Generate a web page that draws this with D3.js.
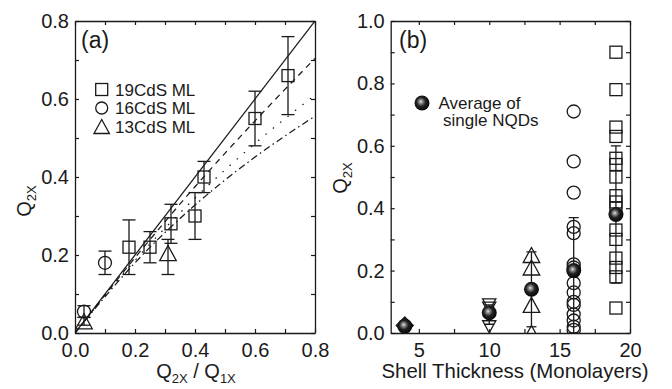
<!DOCTYPE html>
<html><head><meta charset="utf-8">
<script src="https://cdn.jsdelivr.net/npm/d3@7"></script>
<style>
html,body{margin:0;padding:0;background:#fff;}
svg{display:block;font-family:"Liberation Sans",Arial,Helvetica,sans-serif;}
</style></head>
<body>
<svg id="chart" width="672" height="389"></svg>
<script>
// ---------- Panel (a) data ----------
const sq19a = [ // x, y, lo, hi
  {x:0.18,y:0.22,lo:0.15,hi:0.29},
  {x:0.25,y:0.22,lo:0.18,hi:0.26},
  {x:0.32,y:0.28,lo:0.23,hi:0.33},
  {x:0.40,y:0.30,lo:0.24,hi:0.36},
  {x:0.43,y:0.40,lo:0.36,hi:0.44},
  {x:0.60,y:0.55,lo:0.48,hi:0.62},
  {x:0.71,y:0.66,lo:0.56,hi:0.76}
];
const circ16a = [
  {x:0.03,y:0.055,lo:0.04,hi:0.07},
  {x:0.10,y:0.18,lo:0.15,hi:0.21}
];
const tri13a = [
  {x:0.03,y:0.03,lo:0.02,hi:0.04},
  {x:0.31,y:0.205,lo:0.15,hi:0.24}
];
const lineSolid   = [[0,0],[0.8,0.8]];
const lineDashed  = [[0,0],[0.2,0.193],[0.4,0.375],[0.6,0.544],[0.8,0.704]];
const lineDotted  = [[0,0],[0.2,0.186],[0.4,0.346],[0.6,0.486],[0.8,0.61]];
const lineDashDot = [[0,0],[0.2,0.18],[0.4,0.328],[0.6,0.451],[0.8,0.556]];
const ticksA = [0,0.1,0.2,0.3,0.4,0.5,0.6,0.7,0.8];
const labelsA = [0,0.2,0.4,0.6,0.8];
const legendA = ["19CdS ML","16CdS ML","13CdS ML"];

// ---------- Panel (b) data ----------
const thickness = [4, 10, 13, 16, 19];
const averages  = [0.022, 0.065, 0.14, 0.20, 0.38];
const avgLo     = [0.015, 0.028, 0.02, 0.0, 0.16];
const avgHi     = [0.03, 0.09, 0.26, 0.37, 0.60];
const dia4   = [0.024];
const down10 = [0.09, 0.08, 0.02];
const up13   = [0.25, 0.21, 0.09, 0.0];
const circ16 = [0.71, 0.55, 0.45, 0.34, 0.32, 0.22, 0.21, 0.16, 0.13, 0.10, 0.09, 0.06, 0.04, 0.02, 0.01];
const sq19   = [0.90, 0.78, 0.66, 0.63, 0.56, 0.54, 0.50, 0.44, 0.42, 0.40, 0.33, 0.30, 0.24, 0.21, 0.18, 0.08];
const ticksBx = [5,7.5,10,12.5,15,17.5,20];
const labelsBx = [5,10,15,20];
const ticksBy = [0,0.1,0.2,0.3,0.4,0.5,0.6,0.7,0.8,0.9,1.0];
const labelsBy = [0,0.2,0.4,0.6,0.8,1.0];

const INK = "#1a1a1a";
const svg = d3.select("#chart");
const defs = svg.append("defs");
const grad = defs.append("radialGradient").attr("id","ball")
  .attr("cx","0.45").attr("cy","0.45").attr("r","0.6").attr("fx","0.42").attr("fy","0.4");
grad.append("stop").attr("offset","0").attr("stop-color","#e8e8e8");
grad.append("stop").attr("offset","0.16").attr("stop-color","#9a9a9a");
grad.append("stop").attr("offset","0.5").attr("stop-color","#222");
grad.append("stop").attr("offset","1").attr("stop-color","#000");

function frame(g, x, y, xt, xl, yt, yl, fmtX, fmtY){
  const [x0,x1] = x.range(), [y0,y1] = y.range();
  const fx = d => xl.some(v=>Math.abs(v-d)<1e-9) ? fmtX(d) : "";
  const fy = d => yl.some(v=>Math.abs(v-d)<1e-9) ? fmtY(d) : "";
  const style = s => {
    s.selectAll("path.domain").attr("stroke",INK).attr("stroke-width",1.3);
    s.selectAll(".tick line").attr("stroke",INK).attr("stroke-width",1.2);
    s.selectAll("text").attr("fill",INK).attr("font-size",20).attr("font-family","Liberation Sans, Arial, sans-serif");
  };
  g.append("g").attr("transform",`translate(0,${y0})`)
    .call(d3.axisBottom(x).tickValues(xt).tickFormat(fx).tickSize(-4).tickSizeOuter(0).tickPadding(10)).call(style);
  g.append("g").attr("transform",`translate(0,${y1})`)
    .call(d3.axisTop(x).tickValues(xt).tickFormat("").tickSize(-4).tickSizeOuter(0)).call(style);
  g.append("g").attr("transform",`translate(${x0},0)`)
    .call(d3.axisLeft(y).tickValues(yt).tickFormat(fy).tickSize(-4).tickSizeOuter(0).tickPadding(6)).call(style);
  g.append("g").attr("transform",`translate(${x1},0)`)
    .call(d3.axisRight(y).tickValues(yt).tickFormat("").tickSize(-4).tickSizeOuter(0)).call(style);
}

function marker(sel, type, size){
  const h = size/2;
  if(type==="square") return sel.append("rect").attr("x",-h).attr("y",-h).attr("width",size).attr("height",size);
  if(type==="circle") return sel.append("circle").attr("r",h);
  if(type==="up") return sel.append("path").attr("d",`M0,${-size*0.5}L${size*0.55},${size*0.5}L${-size*0.55},${size*0.5}Z`);
  if(type==="down") return sel.append("path").attr("d",`M0,${size*0.5}L${size*0.55},${-size*0.5}L${-size*0.55},${-size*0.5}Z`);
  if(type==="diamond") return sel.append("path").attr("d",`M0,${-h}L${h},0L0,${h}L${-h},0Z`);
}

// ================= Panel (a) =================
const xa = d3.scaleLinear().domain([0,0.8]).range([75,315]);
const ya = d3.scaleLinear().domain([0,0.8]).range([333,21]);
const ga = svg.append("g");
defs.append("clipPath").attr("id","clipA").append("rect")
  .attr("x",75).attr("y",21).attr("width",240).attr("height",312);
const pa = ga.append("g").attr("clip-path","url(#clipA)");
const lg = d3.line().x(d=>xa(d[0])).y(d=>ya(d[1])).curve(d3.curveMonotoneX);
[[lineSolid,null],[lineDashed,"6,5"],[lineDotted,"1.5,8"],[lineDashDot,"7,3.5,1.5,3.5"]].forEach(([data,dash])=>{
  pa.append("path").datum(data).attr("d",lg).attr("fill","none")
    .attr("stroke",INK).attr("stroke-width",1.25).attr("stroke-dasharray",dash);
});
function errA(data){
  data.forEach(d=>{
    const gx = xa(d.x);
    pa.append("line").attr("x1",gx).attr("x2",gx).attr("y1",ya(d.lo)).attr("y2",ya(d.hi))
      .attr("stroke",INK).attr("stroke-width",1.3);
    [d.lo,d.hi].forEach(v=>pa.append("line").attr("x1",gx-6.5).attr("x2",gx+6.5)
      .attr("y1",ya(v)).attr("y2",ya(v)).attr("stroke",INK).attr("stroke-width",1.3));
  });
}
errA(sq19a); errA(circ16a); errA(tri13a);
function ptsA(data,type,size){
  data.forEach(d=>{
    const m = pa.append("g").attr("transform",`translate(${xa(d.x)},${ya(d.y)})`);
    marker(m,type,size).attr("fill","none").attr("stroke",INK).attr("stroke-width",1.3);
  });
}
ptsA(sq19a,"square",12); ptsA(circ16a,"circle",13); ptsA(tri13a,"up",15);
frame(ga, xa, ya, ticksA, labelsA, ticksA, labelsA, d3.format(".1f"), d3.format(".1f"));

// legend (a)
["square","circle","up"].forEach((t,i)=>{
  const yy = 89.5 + i*18.5;
  const m = ga.append("g").attr("transform",`translate(101.7,${yy})`);
  marker(m,t,t==="up"?14:12).attr("fill","none").attr("stroke",INK).attr("stroke-width",1.3);
  ga.append("text").attr("x",115).attr("y",yy+6.3).attr("font-size",17).attr("fill",INK).text(legendA[i]);
});
ga.append("text").attr("x",81).attr("y",47.5).attr("font-size",23).attr("fill",INK).text("(a)");

// axis titles (a)
const xtA = ga.append("text").attr("x",196).attr("y",378).attr("text-anchor","middle").attr("font-size",20).attr("fill",INK);
xtA.append("tspan").text("Q");
xtA.append("tspan").attr("font-size",13).attr("dy",5).text("2X");
xtA.append("tspan").attr("dy",-5).text(" / Q");
xtA.append("tspan").attr("font-size",13).attr("dy",5).text("1X");
const ytA = ga.append("text").attr("transform","translate(31,201) rotate(-90)").attr("text-anchor","middle").attr("font-size",20).attr("fill",INK);
ytA.append("tspan").text("Q");
ytA.append("tspan").attr("font-size",13).attr("dy",5).text("2X");

// ================= Panel (b) =================
const xb = d3.scaleLinear().domain([3,20]).range([390.7,630]);
const yb = d3.scaleLinear().domain([0,1]).range([333,21]);
const gb = svg.append("g");
defs.append("clipPath").attr("id","clipB").append("rect")
  .attr("x",390.7).attr("y",21).attr("width",630-390.7).attr("height",312);
const pb = gb.append("g").attr("clip-path","url(#clipB)");

// error bars of averages
thickness.forEach((t,i)=>{
  const gx = xb(t);
  pb.append("line").attr("x1",gx).attr("x2",gx).attr("y1",yb(avgLo[i])).attr("y2",yb(avgHi[i]))
    .attr("stroke",INK).attr("stroke-width",1.3);
  [avgLo[i],avgHi[i]].forEach(v=>pb.append("line").attr("x1",gx-5).attr("x2",gx+5)
    .attr("y1",yb(v)).attr("y2",yb(v)).attr("stroke",INK).attr("stroke-width",1.3));
});
function ptsB(vals, t, type, size, fill){
  vals.forEach(v=>{
    const m = pb.append("g").attr("transform",`translate(${xb(t)},${yb(v)})`);
    marker(m,type,size).attr("fill",fill||"none").attr("stroke",INK).attr("stroke-width",1.3);
  });
}
ptsB(dia4, 4, "diamond", 17, INK);
ptsB(down10, 10, "down", 12);
ptsB(up13, 13, "up", 15);
ptsB(circ16, 16, "circle", 13);
ptsB(sq19, 19, "square", 12);
// averages (filled balls)
thickness.forEach((t,i)=>{
  pb.append("circle").attr("cx",xb(t)).attr("cy",yb(averages[i])).attr("r",7.5).attr("fill","url(#ball)");
});
frame(gb, xb, yb, ticksBx, labelsBx, ticksBy, labelsBy, d3.format("d"), d3.format(".1f"));

// legend (b)
gb.append("circle").attr("cx",422).attr("cy",103).attr("r",7.5).attr("fill","url(#ball)");
gb.append("text").attr("x",438.5).attr("y",108.5).attr("font-size",17).attr("fill",INK).text("Average of");
gb.append("text").attr("x",443).attr("y",125.5).attr("font-size",17).attr("fill",INK).text("single NQDs");
gb.append("text").attr("x",399).attr("y",47.5).attr("font-size",23).attr("fill",INK).text("(b)");

gb.append("text").attr("x",515).attr("y",378).attr("text-anchor","middle").attr("font-size",20.4).attr("fill",INK)
  .text("Shell Thickness (Monolayers)");
const ytB = gb.append("text").attr("transform","translate(347,178) rotate(-90)").attr("text-anchor","middle").attr("font-size",20).attr("fill",INK);
ytB.append("tspan").text("Q");
ytB.append("tspan").attr("font-size",13).attr("dy",5).text("2X");
</script>
</body></html>
